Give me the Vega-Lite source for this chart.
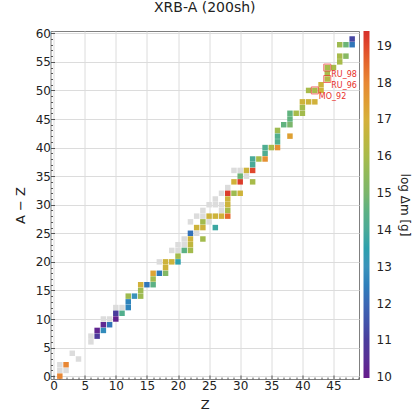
{
  "$schema": "https://vega.github.io/schema/vega-lite/v6.json",
  "autosize": {"type": "none"},
  "width": 308.5,
  "height": 348,
  "padding": {"left": 50.5, "top": 31, "right": 57, "bottom": 37},
  "background": "white",
  "title": {"text": "XRB-A (200sh)", "fontSize": 14, "fontWeight": "normal", "font": "DejaVu Sans", "offset": 12, "color": "#222222"},
  "config": {
    "view": {"stroke": "#808080", "strokeWidth": 1},
    "font": "DejaVu Sans",
    "axis": {"labelFont": "DejaVu Sans", "titleFont": "DejaVu Sans", "labelFontSize": 12, "titleFontSize": 13, "titleFontWeight": "normal", "labelColor": "#222222", "titleColor": "#222222", "gridColor": "#dcdcdc", "gridWidth": 1, "tickColor": "#555555", "domain": false, "labelOverlap": false, "labelFlush": false, "labelBound": false},
    "legend": {"labelFont": "DejaVu Sans", "titleFont": "DejaVu Sans"}
  },
  "data": {"values": [
    {"Z": 1, "N": 1, "v": null}, {"Z": 1, "N": 2, "v": null}, {"Z": 2, "N": 1, "v": null}, {"Z": 3, "N": 4, "v": null}, {"Z": 4, "N": 3, "v": null},
    {"Z": 6, "N": 6, "v": null}, {"Z": 6, "N": 7, "v": null}, {"Z": 8, "N": 10, "v": null}, {"Z": 9, "N": 10, "v": null}, {"Z": 10, "N": 12, "v": null},
    {"Z": 11, "N": 12, "v": null}, {"Z": 17, "N": 20, "v": null}, {"Z": 19, "N": 22, "v": null}, {"Z": 20, "N": 22, "v": null}, {"Z": 20, "N": 23, "v": null},
    {"Z": 21, "N": 23, "v": null}, {"Z": 21, "N": 24, "v": null}, {"Z": 22, "N": 27, "v": null}, {"Z": 23, "N": 25, "v": null}, {"Z": 23, "N": 28, "v": null},
    {"Z": 24, "N": 28, "v": null}, {"Z": 24, "N": 29, "v": null}, {"Z": 25, "N": 27, "v": null}, {"Z": 25, "N": 30, "v": null}, {"Z": 26, "N": 30, "v": null},
    {"Z": 27, "N": 30, "v": null}, {"Z": 26, "N": 31, "v": null}, {"Z": 27, "N": 29, "v": null}, {"Z": 27, "N": 32, "v": null}, {"Z": 28, "N": 33, "v": null},
    {"Z": 29, "N": 36, "v": null}, {"Z": 30, "N": 36, "v": null}, {"Z": 31, "N": 35, "v": null},
    {"Z": 1, "N": 0, "v": 18.0}, {"Z": 2, "N": 2, "v": 18.0},
    {"Z": 7, "N": 7, "v": 10.9}, {"Z": 7, "N": 8, "v": 10.2},
    {"Z": 8, "N": 8, "v": 12.8}, {"Z": 8, "N": 9, "v": 10.3},
    {"Z": 9, "N": 9, "v": 12.3},
    {"Z": 10, "N": 10, "v": 10.1}, {"Z": 10, "N": 11, "v": 11.0},
    {"Z": 11, "N": 11, "v": 14.3},
    {"Z": 12, "N": 12, "v": 12.6}, {"Z": 12, "N": 13, "v": 12.6}, {"Z": 12, "N": 14, "v": 15.8},
    {"Z": 13, "N": 14, "v": 13.0},
    {"Z": 14, "N": 14, "v": 15.8}, {"Z": 14, "N": 15, "v": 15.8}, {"Z": 14, "N": 16, "v": 16.9},
    {"Z": 15, "N": 16, "v": 12.3},
    {"Z": 16, "N": 16, "v": 14.5}, {"Z": 16, "N": 17, "v": 15.9}, {"Z": 16, "N": 18, "v": 17.3},
    {"Z": 17, "N": 18, "v": 12.4},
    {"Z": 18, "N": 18, "v": 15.2}, {"Z": 18, "N": 19, "v": 16.8}, {"Z": 18, "N": 20, "v": 16.8},
    {"Z": 19, "N": 20, "v": 16.8},
    {"Z": 20, "N": 20, "v": 13.5}, {"Z": 20, "N": 21, "v": 15.9},
    {"Z": 21, "N": 22, "v": 14.5},
    {"Z": 22, "N": 22, "v": 15.9}, {"Z": 22, "N": 23, "v": 16.5}, {"Z": 22, "N": 24, "v": 16.8}, {"Z": 22, "N": 25, "v": 12.2},
    {"Z": 23, "N": 26, "v": 16.8}, {"Z": 24, "N": 26, "v": 16.8}, {"Z": 24, "N": 27, "v": 15.9}, {"Z": 24, "N": 24, "v": 15.9},
    {"Z": 25, "N": 28, "v": 16.8}, {"Z": 26, "N": 28, "v": 16.8}, {"Z": 27, "N": 28, "v": 16.9}, {"Z": 28, "N": 28, "v": 18.5},
    {"Z": 26, "N": 26, "v": 13.8},
    {"Z": 28, "N": 29, "v": 16.0}, {"Z": 28, "N": 30, "v": 16.8}, {"Z": 28, "N": 31, "v": 16.8}, {"Z": 28, "N": 32, "v": 19.2},
    {"Z": 29, "N": 32, "v": 15.8}, {"Z": 30, "N": 32, "v": 16.8},
    {"Z": 29, "N": 34, "v": 16.9}, {"Z": 30, "N": 34, "v": 19.2}, {"Z": 32, "N": 34, "v": 16.0},
    {"Z": 30, "N": 35, "v": 14.8},
    {"Z": 31, "N": 36, "v": 16.8}, {"Z": 32, "N": 36, "v": 19.0},
    {"Z": 32, "N": 37, "v": 14.0}, {"Z": 32, "N": 38, "v": 14.0},
    {"Z": 33, "N": 38, "v": 16.0}, {"Z": 34, "N": 38, "v": 17.8},
    {"Z": 34, "N": 39, "v": 14.2}, {"Z": 34, "N": 40, "v": 14.2},
    {"Z": 35, "N": 40, "v": 16.0}, {"Z": 36, "N": 40, "v": 17.8},
    {"Z": 36, "N": 41, "v": 14.3}, {"Z": 36, "N": 42, "v": 14.3}, {"Z": 36, "N": 43, "v": 15.8},
    {"Z": 38, "N": 42, "v": 17.4},
    {"Z": 37, "N": 44, "v": 14.6},
    {"Z": 38, "N": 44, "v": 15.0}, {"Z": 38, "N": 45, "v": 14.6}, {"Z": 38, "N": 46, "v": 14.6},
    {"Z": 39, "N": 46, "v": 16.0},
    {"Z": 40, "N": 46, "v": 15.9}, {"Z": 40, "N": 47, "v": 15.9}, {"Z": 40, "N": 48, "v": 16.8},
    {"Z": 41, "N": 48, "v": 16.8}, {"Z": 42, "N": 48, "v": 16.9},
    {"Z": 41, "N": 50, "v": 16.0}, {"Z": 42, "N": 50, "v": 16.0, "label": "MO_92"},
    {"Z": 43, "N": 50, "v": 16.8}, {"Z": 43, "N": 51, "v": 16.8},
    {"Z": 44, "N": 52, "v": 16.3, "label": "RU_96"}, {"Z": 44, "N": 53, "v": 16.0}, {"Z": 44, "N": 54, "v": 16.0, "label": "RU_98"},
    {"Z": 45, "N": 54, "v": 16.0},
    {"Z": 46, "N": 55, "v": 16.0}, {"Z": 46, "N": 56, "v": 16.0}, {"Z": 47, "N": 56, "v": 15.3},
    {"Z": 46, "N": 58, "v": 15.8}, {"Z": 47, "N": 58, "v": 14.8}, {"Z": 48, "N": 58, "v": 12.3},
    {"Z": 48, "N": 59, "v": 11.2}
  ]},
  "encoding": {
    "x": {"field": "Z", "type": "quantitative", "scale": {"domain": [-0.5, 49.1], "nice": false, "zero": false},
      "axis": {"title": "Z", "values": [0,1,2,3,4,5,6,7,8,9,10,11,12,13,14,15,16,17,18,19,20,21,22,23,24,25,26,27,28,29,30,31,32,33,34,35,36,37,38,39,40,41,42,43,44,45,46,47,48,49],
        "labelExpr": "datum.value % 5 === 0 ? datum.label : ''",
        "tickSize": {"condition": {"test": "datum.value % 5 === 0", "value": -4}, "value": -2},
        "gridOpacity": {"condition": {"test": "datum.value % 5 === 0", "value": 1}, "value": 0},
        "labelPadding": 5, "titlePadding": 5}},
    "y": {"field": "N", "type": "quantitative", "scale": {"domain": [-0.5, 60.4], "nice": false, "zero": false},
      "axis": {"title": "A − Z", "values": [0,1,2,3,4,5,6,7,8,9,10,11,12,13,14,15,16,17,18,19,20,21,22,23,24,25,26,27,28,29,30,31,32,33,34,35,36,37,38,39,40,41,42,43,44,45,46,47,48,49,50,51,52,53,54,55,56,57,58,59,60],
        "labelExpr": "datum.value % 5 === 0 ? datum.label : ''",
        "tickSize": {"condition": {"test": "datum.value % 5 === 0", "value": -4}, "value": -2},
        "gridOpacity": {"condition": {"test": "datum.value % 5 === 0", "value": 1}, "value": 0},
        "labelPadding": 4, "titlePadding": 8}}
  },
  "layer": [
    {"transform": [{"filter": "datum.v == null"}],
     "mark": {"type": "square", "size": 30, "color": "#dcdcdc", "opacity": 1}},
    {"transform": [{"filter": "datum.v != null"}],
     "mark": {"type": "square", "size": 30, "opacity": 1},
     "encoding": {"color": {"field": "v", "type": "quantitative",
        "scale": {"domain": [9.98, 11, 12, 13, 14, 15, 16, 17, 18, 19, 19.4],
                  "range": ["#661b8c", "#4a3c9c", "#3b68b5", "#3a93bb", "#4aaa98", "#7bb66c", "#a8bb4a", "#d6b03a", "#e88734", "#e0472c", "#d6302a"]},
        "legend": {"title": "log Δm [g]", "orient": "right", "offset": 4, "padding": 0, "gradientLength": 347, "gradientThickness": 6, "gradientStrokeWidth": 0,
          "values": [10, 11, 12, 13, 14, 15, 16, 17, 18, 19], "labelFontSize": 12, "labelColor": "#222222", "labelBaseline": "middle", "labelOffset": 7, "labelOverlap": false,
          "titleOrient": "right", "titleFontSize": 12, "titleFontWeight": "normal", "titleColor": "#222222", "titlePadding": 6, "titleAnchor": "middle", "titleBaseline": "bottom",
          "encode": {"title": {"angle": {"value": -90}}}}}}},
    {"transform": [{"filter": "datum.label != null"}],
     "mark": {"type": "square", "size": 49, "filled": false, "stroke": "#ee3333", "strokeWidth": 1, "opacity": 0.7}},
    {"transform": [{"filter": "datum.label != null"}],
     "mark": {"type": "text", "align": "left", "baseline": "top", "dx": 4, "dy": 3, "fontSize": 8, "color": "#e8302a", "font": "DejaVu Sans"},
     "encoding": {"text": {"field": "label"}}}
  ]
}
